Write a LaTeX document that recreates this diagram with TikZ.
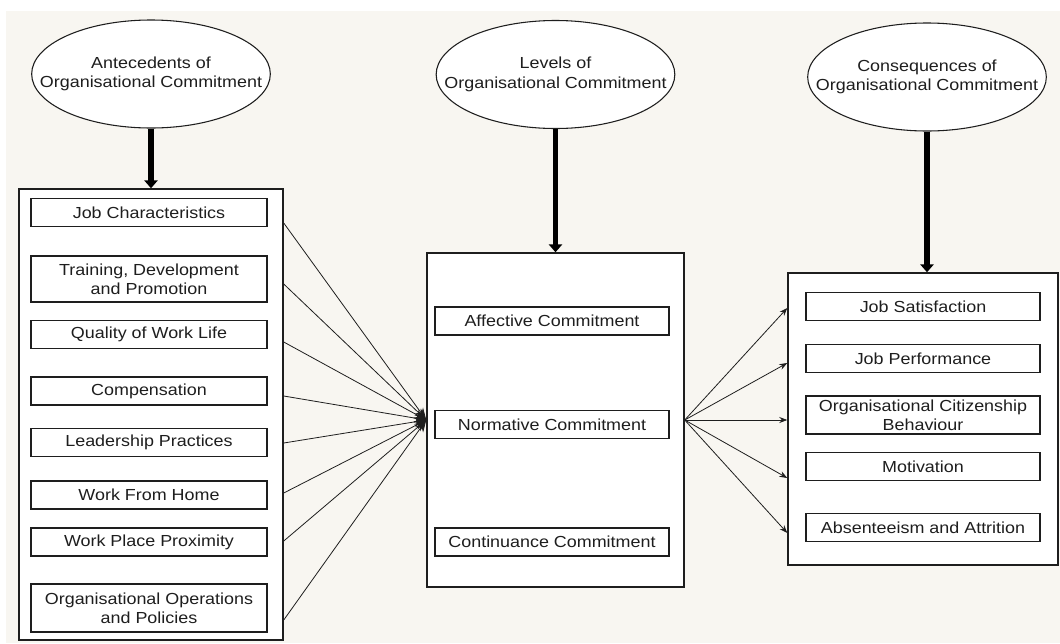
\documentclass[tikz,border=0pt]{standalone}
\usepackage{fontspec}
\setmainfont[FakeStretch=1.12]{Liberation Sans}
\usetikzlibrary{arrows.meta,shapes.geometric,fit}
\definecolor{paper}{HTML}{F8F6F1}
\definecolor{ink}{HTML}{1E1E1E}
\begin{document}
\begin{tikzpicture}[x=0.75pt,y=-0.75pt,
  every node/.style={font=\fontsize{12pt}{14.5pt}\selectfont, text=ink},
  group/.style={draw=ink, line width=1.1pt, fill=white, inner sep=0pt},
  item/.style={draw=ink, line width=0.9pt, fill=white, inner sep=0pt, align=center,
    minimum height=21.5pt},
  litem/.style={item, minimum width=177pt},
  ritem/.style={item, minimum width=175.5pt},
  bubble/.style={draw=ink, ellipse, fill=white, line width=0.8pt, align=center,
    minimum width=179pt, minimum height=81pt, inner xsep=-25pt, inner ysep=0pt},
  bigarrow/.style={line width=3.8pt, -{Triangle[length=6pt,width=10pt]}},
  fanin/.style={line width=0.6pt, ink, -{Stealth[length=9pt,width=7pt]}},
  fanout/.style={line width=0.6pt, ink, -{Stealth[length=6pt,width=4.5pt]}}]

% page and backdrop
\path[fill=white] (0,0) rectangle (1060,643);
\fill[paper] (6,11) rectangle (1060,643);

% headings
\node[bubble] (e1) at (151,74) {Antecedents of\\Organisational Commitment};
\node[bubble] (e2) at (555.5,74.5) {Levels of\\Organisational Commitment};
\node[bubble] (e3) at (927,77) {Consequences of\\Organisational Commitment};

% group frames
\node[group, fit={(19,189) (283,640)}] (ante) {};
\node[group, fit={(427,253) (684,587)}] (mid) {};
\node[group, fit={(788,273) (1058,565)}] (cons) {};

% antecedents
\node[litem] (a1) at (149,212.5) {Job Characteristics};
\node[litem, minimum height=34.5pt] (a2) at (149,279) {Training, Development\\and Promotion};
\node[litem] (a3) at (149,334.5) {Quality of Work Life};
\node[litem, minimum height=21pt] (a4) at (149,391) {Compensation};
\node[litem] (a5) at (149,442.5) {Leadership Practices};
\node[litem, minimum height=21pt] (a6) at (149,495) {Work From Home};
\node[litem, minimum height=21pt] (a7) at (149,542) {Work Place Proximity};
\node[litem, minimum height=36pt] (a8) at (149,608) {Organisational Operations\\and Policies};

% levels
\node[ritem, minimum height=21pt] (l1) at (552,321) {Affective Commitment};
\node[ritem] (l2) at (552,424.5) {Normative Commitment};
\node[ritem, minimum height=21pt] (l3) at (552,542) {Continuance Commitment};

% consequences
\node[ritem] (c1) at (923,306.5) {Job Satisfaction};
\node[ritem] (c2) at (923,358.5) {Job Performance};
\node[ritem, minimum height=28.5pt] (c3) at (923,415) {Organisational Citizenship\\Behaviour};
\node[ritem] (c4) at (923,466.5) {Motivation};
\node[ritem] (c5) at (923,527.5) {Absenteeism and Attrition};

% heading arrows
\draw[bigarrow] (e1.south) -- (e1.south |- ante.north);
\draw[bigarrow] (e2.south) -- (e2.south |- mid.north);
\draw[bigarrow] (e3.south) -- (e3.south |- cons.north);

% antecedents converge on the levels frame
\foreach \y [count=\i] in {223,284,342,396,443,493,541,620}
  \coordinate (s\i) at (ante.east |- 0,\y);
\foreach \i in {1,...,8}
  \draw[fanin] (s\i) -- (mid.west);

% levels fan out to the consequences frame
\foreach \y [count=\i] in {308,363,420,478,533}
  \coordinate (t\i) at (cons.west |- 0,\y);
\foreach \i in {1,...,5}
  \draw[fanout] (mid.east) -- (t\i);

\end{tikzpicture}
\end{document}
